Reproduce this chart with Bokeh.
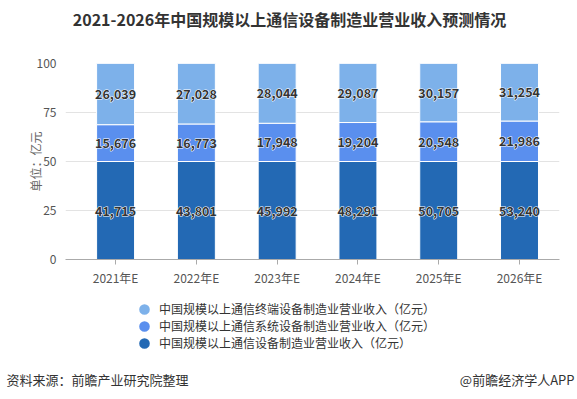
from bokeh.plotting import figure
from bokeh.layouts import column
from bokeh.models import ColumnDataSource, Range1d, Label, Legend, LegendItem, FixedTicker
from bokeh.embed import file_html
from bokeh.resources import INLINE
from bokeh.core.properties import value

# ---- data ----
categories = ["2021年E", "2022年E", "2023年E", "2024年E", "2025年E", "2026年E"]
revenue_total = [41715, 43801, 45992, 48291, 50705, 53240]
revenue_system = [15676, 16773, 17948, 19204, 20548, 21986]
revenue_terminal = [26039, 27028, 28044, 29087, 30157, 31254]
y_ticks = [0, 25, 50, 75, 100]
series_names = [
    "中国规模以上通信终端设备制造业营业收入（亿元）",
    "中国规模以上通信系统设备制造业营业收入（亿元）",
    "中国规模以上通信设备制造业营业收入（亿元）",
]
title_text = "2021-2026年中国规模以上通信设备制造业营业收入预测情况"
y_label = "单位：亿元"
source_text = "资料来源：前瞻产业研究院整理"
brand_text = "@前瞻经济学人APP"

# ---- styles ----
FONT = "Noto Sans CJK SC"
c_terminal = "#7DB1EA"
c_system = "#5A8FEE"
c_total = "#2369B4"
W = 575
FL = 65
FR = W - 559

x = list(range(len(categories)))
sums = [a + b + c for a, b, c in zip(revenue_total, revenue_system, revenue_terminal)]
p_total = [a / s * 100 for a, s in zip(revenue_total, sums)]
p_system = [b / s * 100 for b, s in zip(revenue_system, sums)]
p_terminal = [c / s * 100 for c, s in zip(revenue_terminal, sums)]

b1 = [0] * len(x)
t1 = p_total
b2 = t1
t2 = [a + b for a, b in zip(t1, p_system)]
b3 = t2
t3 = [a + b for a, b in zip(t2, p_terminal)]

def fmt(v):
    return f"{v:,}"

src = ColumnDataSource(dict(
    x=x, b1=b1, t1=t1, b2=b2, t2=t2, b3=b3, t3=t3,
    m1=[(a + b) / 2 for a, b in zip(b1, t1)],
    m2=[(a + b) / 2 for a, b in zip(b2, t2)],
    m3=[(a + b) / 2 for a, b in zip(b3, t3)],
    l1=[fmt(v) for v in revenue_total],
    l2=[fmt(v) for v in revenue_system],
    l3=[fmt(v) for v in revenue_terminal],
))

def blank(h):
    f = figure(width=W, height=h, output_backend="svg", toolbar_location=None,
               x_range=Range1d(0, W), y_range=Range1d(0, h),
               min_border=0, x_axis_type=None, y_axis_type=None, frame_align=False)
    f.outline_line_color = None
    f.xgrid.grid_line_color = None
    f.ygrid.grid_line_color = None
    return f

# ---- header ----
HH = 50
head = blank(HH)
head.add_layout(Label(x=289, y=HH - 18, x_units="screen", y_units="screen", text=title_text,
                      text_align="center", text_baseline="middle", text_font=FONT,
                      text_font_size="16px", text_font_style="bold", text_color="#333333"))

# ---- chart ----
p = figure(width=W, height=239, output_backend="svg", toolbar_location=None,
           x_range=Range1d(-0.62, 5.495), y_range=Range1d(0, 100), frame_align=False,
           min_border_left=FL, min_border_right=FR, min_border_top=13, min_border_bottom=30)
p.outline_line_color = None

bw = 0.47
p.vbar(x="x", bottom="b1", top="t1", width=bw, source=src, fill_color=c_total, line_color="white", line_width=1)
p.vbar(x="x", bottom="b2", top="t2", width=bw, source=src, fill_color=c_system, line_color="white", line_width=1)
p.vbar(x="x", bottom="b3", top="t3", width=bw, source=src, fill_color=c_terminal, line_color="white", line_width=1)

for mcol, lcol in (("m1", "l1"), ("m2", "l2"), ("m3", "l3")):
    p.text(x="x", y=mcol, text=lcol, source=src, text_align="center", text_baseline="middle",
           text_font=value(FONT), text_font_size="12.5px", text_font_style="bold",
           text_color="white", text_outline_color="white")
    p.text(x="x", y=mcol, text=lcol, source=src, text_align="center", text_baseline="middle",
           text_font=value(FONT), text_font_size="12.5px", text_font_style="bold",
           text_color="#333333")

p.xaxis.ticker = FixedTicker(ticks=x)
p.xaxis.major_label_overrides = {i: c for i, c in zip(x, categories)}
p.xaxis.major_label_text_font = FONT
p.xaxis.major_label_text_font_size = "12px"
p.xaxis.major_label_text_color = "#555555"
p.xaxis.axis_line_color = "#AAAAAA"
p.xaxis.major_tick_line_color = "#AAAAAA"
p.xaxis.major_tick_in = 0
p.xaxis.major_tick_out = 5
p.xaxis.minor_tick_line_color = None
p.xaxis.major_label_standoff = 4

p.yaxis.ticker = FixedTicker(ticks=y_ticks)
p.yaxis.axis_line_color = None
p.yaxis.major_tick_line_color = None
p.yaxis.minor_tick_line_color = None
p.yaxis.major_label_text_font = FONT
p.yaxis.major_label_text_font_size = "12px"
p.yaxis.major_label_text_color = "#555555"
p.yaxis.major_label_standoff = 3
p.yaxis.axis_label = y_label
p.yaxis.axis_label_text_font = FONT
p.yaxis.axis_label_text_font_size = "12px"
p.yaxis.axis_label_text_font_style = "normal"
p.yaxis.axis_label_text_color = "#666666"
p.yaxis.axis_label_standoff = -10

p.xgrid.grid_line_color = None
p.ygrid.grid_line_color = "#E3E3E3"
p.ygrid.ticker = FixedTicker(ticks=y_ticks)

# ---- footer with legend ----
FH = 108
foot = blank(FH)
items = []
nan = float("nan")
for name, col in zip(series_names, (c_terminal, c_system, c_total)):
    d = foot.scatter(x=[nan], y=[nan], marker="circle", size=6,
                     fill_color=col, line_color=col, line_width=5)
    items.append(LegendItem(label=name, renderers=[d]))
leg = Legend(items=items, location=(137, 46), orientation="vertical",
             padding=0, margin=0, spacing=0, label_height=14, glyph_height=14, glyph_width=14,
             label_standoff=8, label_text_font=FONT, label_text_font_size="12px",
             label_text_color="#333333", background_fill_alpha=0, border_line_color=None)
foot.add_layout(leg, "center")
foot.add_layout(Label(x=6, y=FH - 90, x_units="screen", y_units="screen", text=source_text,
                      text_align="left", text_baseline="middle", text_font=FONT,
                      text_font_size="13px", text_color="#333333"))
foot.add_layout(Label(x=574, y=FH - 90, x_units="screen", y_units="screen", text=brand_text,
                      text_align="right", text_baseline="middle", text_font=FONT,
                      text_font_size="13px", text_color="#333333"))

layout = column(head, p, foot, spacing=0)
open("out.html", "w").write(file_html(layout, INLINE))
